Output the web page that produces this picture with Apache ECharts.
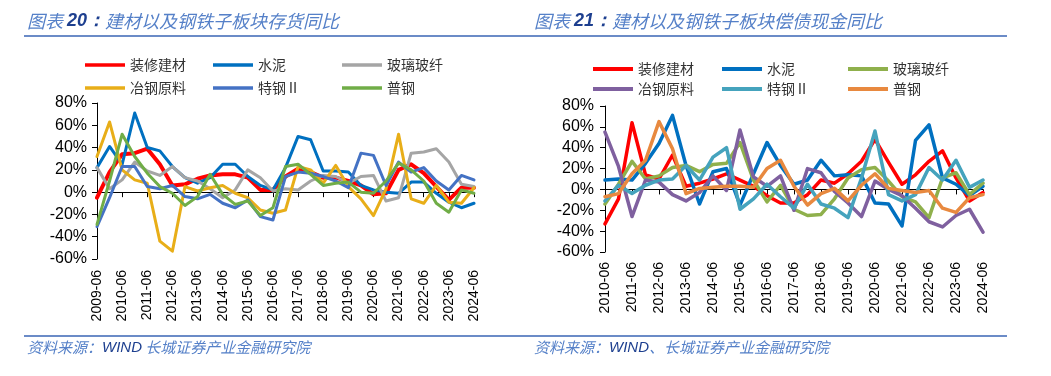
<!DOCTYPE html>
<html>
<head>
<meta charset="utf-8">
<script src="https://cdn.jsdelivr.net/npm/echarts@6/dist/echarts.min.js"></script>
<style>
  body { margin: 0; background: #fff; }
  #left  { position: absolute; left: 0;     top: 0; width: 520px; height: 376px; }
  #right { position: absolute; left: 520px; top: 0; width: 531px; height: 376px; }
</style>
</head>
<body>
<div id="left"></div>
<div id="right"></div>
<script>
// ---- data ----
const NAMES = ["装修建材", "水泥", "玻璃玻纤", "冶钢原料", "特钢Ⅱ", "普钢"];

// chart 20: inventory YoY (%), half-yearly
const dates20 = [
  "2009-06", "2009-12", "2010-06", "2010-12", "2011-06", "2011-12", "2012-06", "2012-12",
  "2013-06", "2013-12", "2014-06", "2014-12", "2015-06", "2015-12", "2016-06", "2016-12",
  "2017-06", "2017-12", "2018-06", "2018-12", "2019-06", "2019-12", "2020-06", "2020-12",
  "2021-06", "2021-12", "2022-06", "2022-12", "2023-06", "2023-12", "2024-06",
];
const inv_decor   = [-5, 18, 34, 35, 39, 25, 6, 7, 12, 15, 16, 16, 13, 2, 2, 14, 21, 18, 13, 13, 10, 6, -2, -1, 20, 25, 17, 5, -7, 4, 4];
const inv_cement  = [22, 41, 25, 71, 40, 37, 23, 13, 8, 13, 25, 25, 14, 6, 2, 22, 50, 47, 19, 19, 18, 6, 2, 0, -1, 9, 9, -1, -9, -14, -10];
const inv_glass   = [22, 3, 11, 27, 19, 15, 23, 13, 10, 3, -5, 2, 20, 13, 1, 3, 2, 10, 15, 14, 8, 14, 15, -8, -5, 35, 36, 39, 27, 7, 5];
const inv_ore     = [32, 63, 20, 11, 8, -44, -53, 5, 1, 4, 6, -1, -5, -16, -19, -16, 23, 20, 8, 24, 5, -6, -21, 3, 52, -6, -10, 6, -9, -10, 4];
const inv_special = [-31, -5, 23, 23, 5, 3, 6, -4, -6, -2, -10, -14, -7, -22, -25, 14, 18, 17, 14, 10, 4, 35, 33, 6, 27, 18, 22, 10, 2, 15, 11];
const inv_common  = [-29, 10, 52, 32, 17, 5, -1, -12, -4, 16, -2, -11, -8, -21, -14, 23, 25, 16, 6, 8, 9, 0, -1, 10, 26, 20, 10, -10, -18, 2, -1];

// chart 21: cash paid for debt YoY (%), half-yearly
const dates21 = [
  "2010-06", "2010-12", "2011-06", "2011-12", "2012-06", "2012-12", "2013-06", "2013-12",
  "2014-06", "2014-12", "2015-06", "2015-12", "2016-06", "2016-12", "2017-06", "2017-12",
  "2018-06", "2018-12", "2019-06", "2019-12", "2020-06", "2020-12", "2021-06", "2021-12",
  "2022-06", "2022-12", "2023-06", "2023-12", "2024-06",
];
const debt_decor   = [-33, -9, 64, 14, 10, 33, 3, 6, 10, 15, 9, 3, -6, -13, -13, -5, 9, 6, 15, 27, 48, 26, 5, 14, 27, 37, 11, -11, -3];
const debt_cement  = [9, 10, 9, 25, 44, 71, 23, -14, 17, 20, -15, 15, 45, 23, 5, 9, 28, 13, 14, 13, -13, -14, -35, 47, 62, 11, 5, -6, 3];
const debt_glass   = [-14, 5, 27, 10, 13, 21, 23, 17, 24, 25, 45, 9, -12, 4, -19, -25, -24, -9, 11, 19, 21, 8, -7, -12, -27, 11, 16, -5, 6];
const debt_ore     = [55, 22, -26, 9, 7, -5, -11, -3, 13, -1, 57, 12, 3, 13, -20, 20, 16, -2, -13, -26, 8, 0, -6, -18, -31, -36, -25, -19, -41];
const debt_special = [-11, 4, -4, 4, 9, 10, 23, 9, 31, 40, -19, -9, 5, -7, -18, 5, -14, -18, -27, 11, 56, -5, -11, -5, 21, 9, 28, 2, 9];
const debt_common  = [-7, -4, 15, 28, 65, 39, -4, 1, 2, 3, 3, 2, 20, 28, 3, -15, -4, 1, -11, 4, 15, 1, -1, -3, -1, -18, -22, -8, -5];

const yTicks = [-60, 80, 20]; // min, max, step

// ---- style ----
const CJK = "'Noto Sans CJK SC', sans-serif";
const LATIN = "'Liberation Sans', Arial, sans-serif";
const LIGHT = "#5580c8";
const DARK = "#1d3f8f";
const RULE = "#3a64b4";

// title textStyle defaults to bolder, so every rich part sets its own weight
function richText(size) {
  return {
    a: { fontSize: size, fontStyle: "italic", fontWeight: "normal", color: LIGHT, fontFamily: CJK },
    b: { fontSize: size, fontStyle: "italic", fontWeight: "bold", color: DARK, fontFamily: LATIN },
    w: { fontSize: size, fontStyle: "italic", fontWeight: "normal", color: DARK, fontFamily: LATIN },
  };
}

function buildOption(cfg) {
  const series = cfg.values.map((vals, i) => ({
    name: NAMES[i],
    type: "line",
    data: vals,
    showSymbol: false,
    animation: false,
    lineStyle: { width: cfg.widths[i], color: cfg.colors[i], join: "round", cap: "round" },
    itemStyle: { color: cfg.colors[i] },
  }));

  // one legend per item so the three columns line up like the original
  const legend = NAMES.map((name, i) => ({
    data: [name],
    left: cfg.legendX[i % 3],
    top: cfg.legendY[Math.floor(i / 3)] - 7,
    padding: 0,
    icon: "rect",
    itemWidth: 40,
    itemHeight: cfg.legendLine,
    selectedMode: false,
    textStyle: { fontSize: 14, color: "#333", fontFamily: CJK },
  }));

  const axisText = { color: "#000", fontFamily: LATIN };

  return {
    animation: false,
    backgroundColor: "#fff",
    title: [
      { text: cfg.title, left: cfg.textX, top: 12, padding: 0, textStyle: { fontWeight: "normal", rich: richText(18) } },
      { text: cfg.source, left: cfg.textX, top: 340, padding: 0, textStyle: { fontWeight: "normal", rich: richText(15) } },
    ],
    graphic: [
      { type: "line", shape: { x1: cfg.rule[0], y1: 36, x2: cfg.rule[1], y2: 36 }, style: { stroke: RULE, lineWidth: 1.3 } },
      { type: "line", shape: { x1: cfg.rule[0], y1: 336, x2: cfg.rule[1], y2: 336 }, style: { stroke: RULE, lineWidth: 1.3 } },
    ],
    legend,
    grid: cfg.grid,
    xAxis: [
      {
        type: "category", data: cfg.dates, boundaryGap: false,
        axisLine: { onZero: true, lineStyle: { color: "#000", width: 1 } },
        axisTick: { interval: 1, length: 5, lineStyle: { color: "#000" } },
        axisLabel: { show: false },
        splitLine: { show: false },
      },
      {
        type: "category", data: cfg.dates, boundaryGap: false, position: "bottom",
        axisLine: { show: false, onZero: false },
        axisTick: { show: false },
        axisLabel: { ...axisText, interval: 1, rotate: 90, fontSize: 14, margin: cfg.xMargin },
        splitLine: { show: false },
      },
    ],
    yAxis: {
      type: "value", min: yTicks[0], max: yTicks[1], interval: yTicks[2],
      axisLine: { show: true, lineStyle: { color: "#000", width: 1 } },
      axisTick: { show: true, length: 5, lineStyle: { color: "#000" } },
      axisLabel: { ...axisText, fontSize: 16, margin: cfg.yMargin, formatter: "{value}%" },
      splitLine: { show: false },
    },
    series,
  };
}

const left = echarts.init(document.getElementById("left"));
left.setOption(buildOption({
  title: "{a|图表 }{b|20：}{a|建材以及钢铁子板块存货同比}",
  source: "{a|资料来源：}{w|WIND}{a| 长城证券产业金融研究院}",
  textX: 27,
  rule: [24, 520],
  dates: dates20,
  values: [inv_decor, inv_cement, inv_glass, inv_ore, inv_special, inv_common],
  colors: ["#ff0000", "#0070c0", "#a5a5a5", "#e8ae18", "#4472c4", "#70ad47"],
  widths: [4, 3, 3, 3, 3, 3],
  legendX: [85, 213, 342],
  legendY: [65, 88],
  legendLine: 3.5,
  grid: { left: 97, top: 103, width: 377, height: 156 },
  xMargin: 11,
  yMargin: 10,
}));

const right = echarts.init(document.getElementById("right"));
right.setOption(buildOption({
  title: "{a|图表 }{b|21：}{a|建材以及钢铁子板块偿债现金同比}",
  source: "{a|资料来源：}{w|WIND}{a|、长城证券产业金融研究院}",
  textX: 14,
  rule: [0, 487],
  dates: dates21,
  values: [debt_decor, debt_cement, debt_glass, debt_ore, debt_special, debt_common],
  colors: ["#ff0000", "#0070c0", "#8fb04c", "#7f609f", "#45a3bd", "#e8893f"],
  widths: [3.5, 3.5, 3.5, 3.5, 3.5, 3.5],
  legendX: [73, 202, 328],
  legendY: [69, 89],
  legendLine: 4,
  grid: { left: 85, top: 106, width: 378, height: 146 },
  xMargin: 10,
  yMargin: 11,
}));
</script>
</body>
</html>
